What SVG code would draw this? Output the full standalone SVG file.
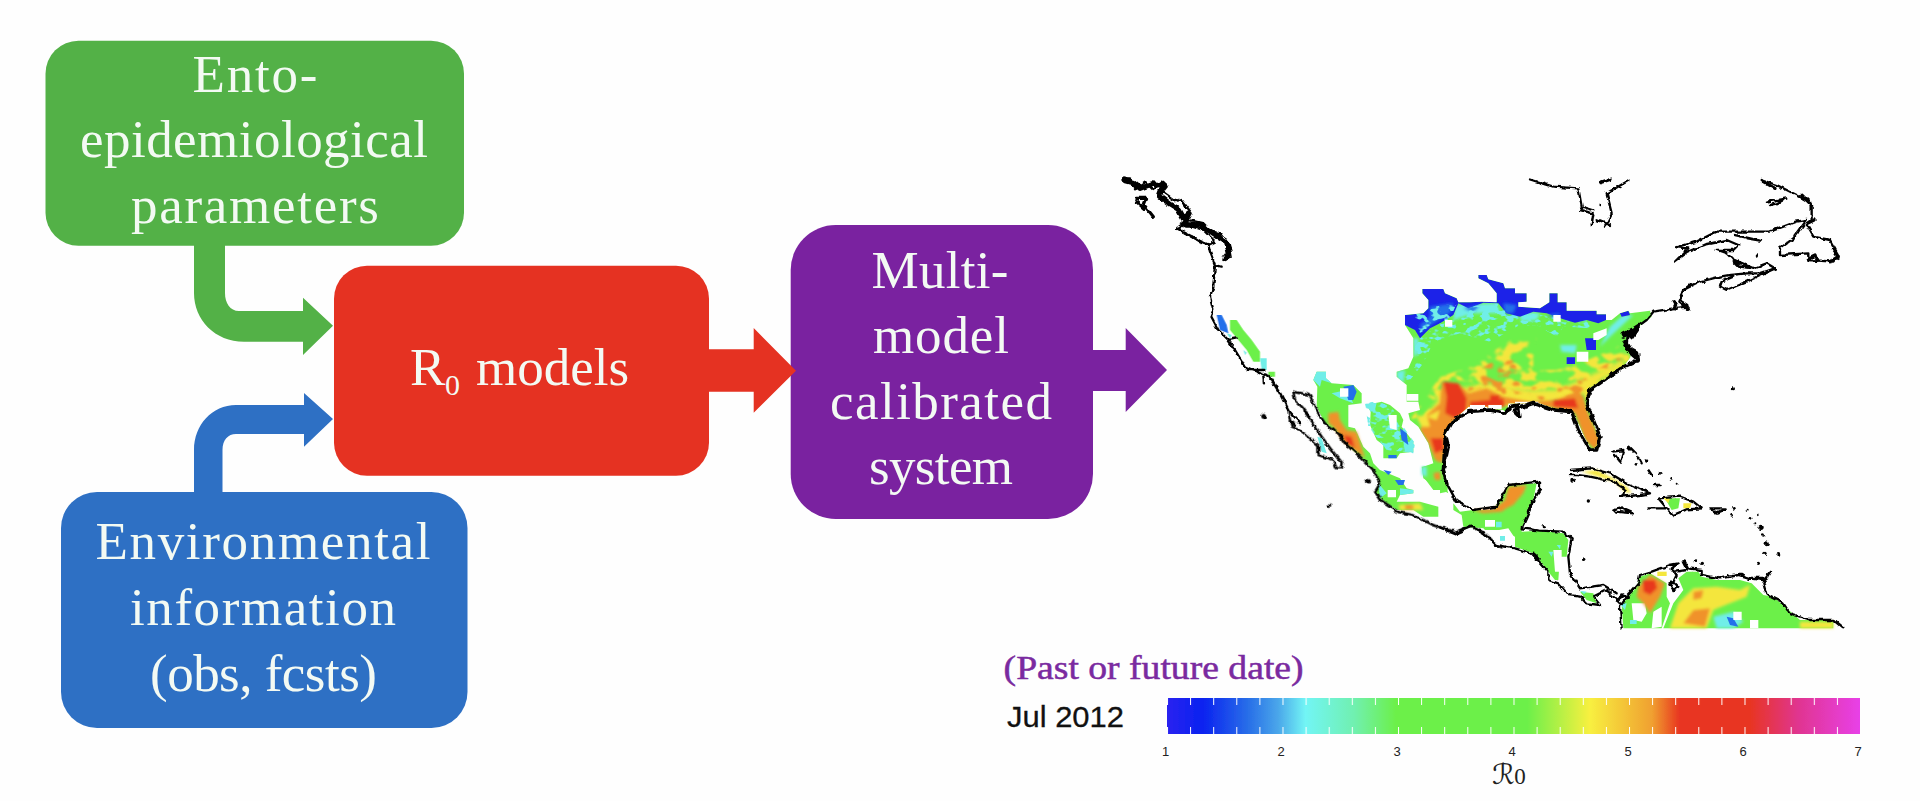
<svg xmlns="http://www.w3.org/2000/svg" width="1920" height="801" viewBox="0 0 1920 801">
<style>
.lbl{font-family:"Liberation Serif",serif;font-size:53px;fill:#f3faf3;text-anchor:middle}
.tick{font-family:"Liberation Sans",sans-serif;font-size:13px;fill:#222;text-anchor:middle}
.coast{fill:none;stroke:#000;stroke-width:7;stroke-linejoin:round;stroke-linecap:round}
.thick{stroke-width:16}
.mid{stroke-width:10}
.dot{fill:#000;stroke:none}
.g{fill:#6cf04a}.b{fill:#1a24e8}.m{fill:#2470ea}.c{fill:#70eee8}.y{fill:#f4e63c}.o{fill:#f0922c}.r{fill:#e8391e}.w{fill:#fff}
</style>
<defs>
<filter id="s1" x="-5%" y="-5%" width="110%" height="110%"><feGaussianBlur stdDeviation="0.7"/></filter>
<filter id="s2" x="-10%" y="-10%" width="120%" height="120%"><feGaussianBlur stdDeviation="7"/></filter>
<filter id="s3" x="-10%" y="-10%" width="120%" height="120%"><feGaussianBlur stdDeviation="4"/></filter>
<filter id="rough" x="1100" y="160" width="780" height="490" filterUnits="userSpaceOnUse" color-interpolation-filters="sRGB"><feTurbulence type="fractalNoise" baseFrequency=".16" numOctaves="2" seed="5" result="n"/><feDisplacementMap in="SourceGraphic" in2="n" scale="4.500" xChannelSelector="R" yChannelSelector="G"/><feGaussianBlur stdDeviation="0.45"/></filter>
<filter id="mY" x="-20%" y="-20%" width="140%" height="140%" color-interpolation-filters="sRGB"><feTurbulence type="fractalNoise" baseFrequency=".024 .036" numOctaves="2" seed="3"/><feColorMatrix values="0 0 0 0 0 0 0 0 0 0 0 0 0 0 0 9 0 0 0 -4.300" result="m"/><feComposite in="SourceGraphic" in2="m" operator="in"/><feGaussianBlur stdDeviation="3"/></filter>
<filter id="mO" x="-20%" y="-20%" width="140%" height="140%" color-interpolation-filters="sRGB"><feTurbulence type="fractalNoise" baseFrequency=".026 .04" numOctaves="2" seed="11"/><feColorMatrix values="0 0 0 0 0 0 0 0 0 0 0 0 0 0 0 9 0 0 0 -4.900" result="m"/><feComposite in="SourceGraphic" in2="m" operator="in"/><feGaussianBlur stdDeviation="3"/></filter>
<filter id="mC" x="-20%" y="-20%" width="140%" height="140%" color-interpolation-filters="sRGB"><feTurbulence type="fractalNoise" baseFrequency=".04 .06" numOctaves="2" seed="7"/><feColorMatrix values="0 0 0 0 0 0 0 0 0 0 0 0 0 0 0 9 0 0 0 -4.600" result="m"/><feComposite in="SourceGraphic" in2="m" operator="in"/><feGaussianBlur stdDeviation="2"/></filter>
<clipPath id="us"><path d="M45 135L100 130 115 115 115 90 97 70 97 57 160 57 165 70 200 85 205 97 240 97 275 95 320 97 320 70 295 40 265 25 265 15 290 15 295 28 340 40 345 55 375 55 375 70 410 70 410 95 385 97 385 110 450 115 478 97 478 70 503 70 503 97 530 97 530 122 620 122 620 133 648 133 648 150 665 150 690 130 715 122 720 130 780 122 785 140 745 170 715 190 710 215 722 260 700 290 650 325 603 352 590 385 600 430 625 500 622 530 605 540 583 500 570 470 550 430 500 420 450 400 390 400 355 400 350 430 340 420 300 420 290 410 235 410 185 455 165 490 170 530 160 570 165 625 160 660 130 660 100 620 100 590 130 580 115 520 85 470 60 450 55 430 90 420 85 395 50 395 50 345 20 320 20 305 55 295 70 260 70 205 45 165Z"/></clipPath>
<linearGradient id="cb" x1="0" x2="1" y1="0" y2="0">
<stop offset="0" stop-color="#2a22f0"/><stop offset=".05" stop-color="#0a20f0"/><stop offset=".12" stop-color="#2a72e8"/><stop offset=".16" stop-color="#4aa6ea"/><stop offset=".2" stop-color="#72f5f5"/><stop offset=".27" stop-color="#70f0b0"/><stop offset=".33" stop-color="#6cf04a"/><stop offset=".52" stop-color="#6cf04a"/><stop offset=".61" stop-color="#f8f040"/><stop offset=".7" stop-color="#f0a030"/><stop offset=".74" stop-color="#e83520"/><stop offset=".84" stop-color="#e83520"/><stop offset=".91" stop-color="#e0358f"/><stop offset="1" stop-color="#e840e8"/>
</linearGradient>
<pattern id="tk" x="1167" y="698" width="23.1" height="36" patternUnits="userSpaceOnUse"><rect width="1" height="7" fill="#fff"/><rect y="29" width="1" height="7" fill="#fff"/></pattern>
</defs>
<rect width="1920" height="801" fill="#fefefe"/>

<g id="node-ento">
<rect x="45.5" y="40.7" width="418.5" height="205" rx="33" fill="#53b147"/>
<text class="lbl" x="255" y="92" textLength="125">Ento-</text>
<text class="lbl" x="254" y="157" textLength="348">epidemiological</text>
<text class="lbl" x="255" y="223" textLength="248">parameters</text>
</g>
<g id="node-env">
<rect x="61" y="492" width="406.5" height="236" rx="36" fill="#2e70c4"/>
<text class="lbl" x="263" y="559" textLength="335">Environmental</text>
<text class="lbl" x="263" y="625" textLength="266">information</text>
<text class="lbl" x="263.500" y="691" textLength="227">(obs, fcsts)</text>
</g>
<g id="node-r0">
<rect x="334" y="265.700" width="375" height="210" rx="33" fill="#e53222"/>
<text class="lbl" style="text-anchor:start" x="410" y="385">R<tspan x="445" dy="10" font-size="30">0</tspan><tspan x="476" dy="-10">models</tspan></text>
</g>
<g id="node-multi">
<rect x="790.700" y="225" width="302.300" height="294" rx="45" fill="#7a22a0"/>
<text class="lbl" x="940" y="288" textLength="137">Multi-</text>
<text class="lbl" x="941" y="353" textLength="136">model</text>
<text class="lbl" x="941" y="419" textLength="222">calibrated</text>
<text class="lbl" x="941" y="484" textLength="144">system</text>
</g>

<g id="connectors">
<path id="arrow-ento-r0" fill="#53b147" d="M194 245V293C194 320 215 341.700 244 341.700H303V355L333 325.700 303 297.700V311H239C230 311 225 303 225 293V245Z"/>
<path id="arrow-env-r0" fill="#2e70c4" d="M194 492V450C194 425 212 405 236 405H304V393L333 419 304 446.700V434H236C228 434 222.500 440 222.500 450V492Z"/>
<path id="arrow-r0-multi" fill="#e53222" d="M709 349.300H753.700V328L796 370.700 753.700 412.700V391.700H709Z"/>
<path id="arrow-multi-map" fill="#7a22a0" d="M1093 350H1125.700V328L1167 370 1125.700 412V391H1093Z"/>
</g>

<g id="map">
<g id="heat" filter="url(#s1)">
<g transform="translate(1390 270) scale(.33333)">
<path class="g" d="M45 135L100 130 115 115 115 90 97 70 97 57 160 57 165 70 200 85 205 97 240 97 275 95 320 97 320 70 295 40 265 25 265 15 290 15 295 28 340 40 345 55 375 55 375 70 410 70 410 95 385 97 385 110 450 115 478 97 478 70 503 70 503 97 530 97 530 122 620 122 620 133 648 133 648 150 665 150 690 130 715 122 720 130 780 122 785 140 745 170 715 190 710 215 722 260 700 290 650 325 603 352 590 385 600 430 625 500 622 530 605 540 583 500 570 470 550 430 500 420 450 400 390 400 355 400 350 430 340 420 300 420 290 410 235 410 185 455 165 490 170 530 160 570 165 625 160 660 130 660 100 620 100 590 130 580 115 520 85 470 60 450 55 430 90 420 85 395 50 395 50 345 20 320 20 305 55 295 70 260 70 205 45 165Z"/>
<g clip-path="url(#us)">
<path class="c" filter="url(#mC)" d="M30 330L75 290 75 230 100 190 200 110 320 100 385 125 520 145 620 150 600 175 520 170 500 200 440 165 380 170 300 215 210 190 130 215 100 280 60 330Z"/>
<g filter="url(#s3)">
<path class="c" d="M70 205L85 205 85 250 72 262Z M20 305L45 300 40 340 22 325Z M195 105L320 100 330 130 250 130 190 150Z M385 125L450 130 440 150 395 155Z M660 170L700 135 730 135 660 200 630 230Z M510 225L560 225 555 250 515 245Z"/>
</g>
<path class="b" d="M45 135L100 130 115 115 115 90 97 70 97 57 160 57 165 70 200 85 205 97 240 97 275 95 320 97 320 70 295 40 265 25 265 15 290 15 295 28 340 40 345 55 375 55 375 70 410 70 410 95 385 97 385 110 450 115 478 97 478 70 503 70 503 97 530 97 530 122 620 122 620 133 648 133 648 150 625 160 590 150 555 158 520 148 470 130 430 125 390 140 350 130 325 100 280 98 235 115 205 100 190 135 150 160 120 175 90 205 75 180 45 165Z"/>
<path class="b" d="M585 205L618 205 618 240 590 240Z M530 262L555 262 555 282 530 282Z M690 130L715 122 720 135 695 140Z M780 110L795 110 795 122 780 122Z"/>
<g filter="url(#s3)">
<path class="m" d="M120 110L190 100 180 130 130 160 95 185 90 165 120 140Z M340 100L380 105 370 130 345 130Z M220 115L270 105 250 125Z M470 135L510 130 500 145Z"/>
</g>
<path class="c" filter="url(#mC)" d="M70 120L200 100 170 170 90 190Z M230 110L340 100 350 150 240 140Z"/>
<g filter="url(#s2)">
<path class="y" d="M100 450L165 360 240 350 300 340 420 360 500 360 590 320 660 290 700 265 705 290 640 325 590 370 500 395 300 410 160 490Z"/>
</g>
<path class="y" filter="url(#mY)" d="M60 450L150 320 240 290 300 250 370 205 440 205 430 260 430 300 500 300 570 280 640 250 715 215 720 280 640 340 590 390 300 420 160 490Z"/>
<path class="o" filter="url(#mO)" d="M200 345L300 280 370 270 400 350 500 350 600 310 700 255 700 280 620 340 560 390 300 400Z"/>
<g filter="url(#s3)">
<path class="o" d="M155 335L205 340 235 370 290 355 340 380 420 395 500 390 560 365 580 378 595 430 630 510 615 540 585 510 555 430 490 415 430 405 350 405 240 415 195 450 170 495 170 535 155 580 135 570 115 520 90 480 105 440 150 400Z"/>
<path class="r" d="M160 335L205 340 230 385 228 425 195 445 165 430 170 380Z"/>
<path class="r" d="M122 505L160 505 160 540 135 550Z M240 395L340 385 345 410 240 410Z M490 390L555 385 565 415 490 410Z M300 375L330 375 325 395 300 395Z"/>
<path class="y" d="M80 440L110 435 120 470 95 470Z M110 440L150 420 140 450Z"/>
</g>
</g>
<path class="w" d="M165 150H187V170H165Z M490 135H512V155H490Z M610 190L650 175 650 195 625 210 610 210Z M560 245H595V275H560Z M50 372H85V392H50Z M240 405H285V416H240Z M295 405H335V418H295Z M375 395H445V400H375Z"/>
</g>
<g transform="translate(1200 370) scale(.33333)">
<path class="g" d="M350 5L378 5 378 25 395 40 460 45 485 70 485 100 445 105 445 170 465 175 490 230 510 250 520 280 540 300 600 325 620 355 640 360 640 370 600 375 590 395 660 395 715 410 715 440 670 440 640 420 590 420 540 385 525 365 540 340 520 300 480 260 440 225 420 195 375 160 350 110 352 50 340 30Z"/>
<path class="c" d="M350 5L378 5 378 25 395 40 365 30 360 50 340 30Z M395 70L440 60 460 100 420 85Z M535 340L560 370 540 385Z M640 360L640 370 600 375 600 355Z"/>
<path class="m" d="M430 50L460 45 470 65 460 90 445 90Z M585 330L615 330 610 345 595 345Z M550 300L575 305 565 315Z"/>
<path class="w" d="M420 55H445V80H420Z M563 360H588V382H563Z"/>
<g filter="url(#s3)">
<path class="o" d="M385 130L415 125 420 150 440 180 470 185 495 265 470 245 430 215 400 170 385 160Z"/>
<path class="y" d="M595 405L660 400 670 420 600 420Z"/>
<path class="o" d="M615 405L640 405 640 418 615 418Z"/>
<path class="r" d="M430 195L455 200 465 235 440 220Z"/>
</g>
<path class="g" d="M500 105L545 95 570 105 600 130 610 150 605 170 640 215 640 245 600 250 590 265 550 265 550 225 530 210 510 165 512 125Z"/>
<path class="c" filter="url(#mC)" d="M495 100L550 90 580 120 610 170 645 220 640 250 560 240 505 170Z"/>
<path class="c" d="M500 105L530 98 525 120 512 125Z M610 215L640 215 640 245 615 245Z"/>
<path class="m" d="M600 175L620 190 625 225 605 210Z M565 255H590V265H565Z"/>
<path class="w" d="M565 135H590L590 180 570 175Z"/>
<path class="g" d="M665 290L700 285 720 280 730 335 745 370 700 345 670 325Z"/>
<g filter="url(#s3)"><path class="o" d="M700 310L720 305 722 330 705 330Z"/><path class="c" d="M665 290L680 290 680 320 665 315Z"/></g>
<path class="c" d="M352 200L365 205 380 250 365 245Z"/>
</g>
<g transform="translate(1120 170) scale(.33333)">
<path class="g" d="M330 450L350 450 370 480 395 510 420 545 420 575 400 575 380 540 355 510 330 480Z M445 605H465V620H445Z"/>
<path class="m" d="M290 435L305 435 320 465 325 490 300 480Z"/>
<path class="c" d="M420 565L440 565 440 600 425 600Z M320 490L335 495 330 505Z M370 540L380 548 375 555Z"/>
</g>
<g transform="translate(1440 440) scale(.33333)">
<path class="g" d="M0 120L25 130 22 155 0 160Z M40 190L60 215 100 210 160 210 205 135 290 130 280 180 265 220 245 265 245 275 300 272 370 280 385 300 380 350 360 350 355 420 345 420 325 395 290 350 280 340 225 320 225 290 180 270 135 270 130 265 70 260 65 225 40 210Z"/>
<path class="g" d="M420 455L460 460 470 490 440 480Z"/>
<g filter="url(#s3)"><path class="o" d="M205 140L260 135 250 160 220 195 200 205 185 215 130 220 80 205 100 210 160 208 195 180Z"/></g>
<path class="w" d="M135 240H165V260H135Z M150 275L205 265 225 295 220 320 175 315Z M340 330H365V350L360 395 345 395Z"/>
<path class="c" d="M168 245H185V262H168Z M180 288H195V302H180Z M325 335L340 335 335 350Z M350 315L362 315 360 328Z M420 452L440 455 432 462Z"/>
</g>
<g transform="translate(1570 440) scale(.33333)">
<path class="g" d="M155 495L175 470 200 440 210 410 240 400 290 430 290 470 300 490 275 565 160 565Z"/>
<path class="w" d="M185 490L225 490 230 520 215 545 190 540Z M250 515L275 500 275 560 245 565Z"/>
<g filter="url(#s3)">
<path class="o" d="M205 440L240 405 285 430 270 470 240 520 220 490 200 470Z"/>
<path class="r" d="M218 420L255 420 262 445 240 465 220 455Z"/>
</g>
<path class="c" d="M150 492L170 490 165 510Z M180 540H200V552H180Z"/>
<path class="g" d="M280 565L310 490 340 450 325 415 350 395 385 395 395 410 440 420 510 420 545 430 580 465 610 470 650 505 690 540 790 540 790 565Z"/>
<g filter="url(#s3)">
<path class="y" d="M300 565L325 490 370 445 440 440 510 450 540 435 530 470 480 490 430 510 410 565Z M690 545H790V565H690Z"/>
<path class="o" d="M340 550L370 510 420 505 405 560Z M370 455L400 450 395 475 370 480Z"/>
</g>
<g filter="url(#s3)"><path class="c" d="M430 530L490 515 520 545 490 565 440 565Z"/></g>
<path class="m" d="M470 530L490 535 505 560 480 555Z"/>
<path class="w" d="M490 515H515V540H490Z M540 540H565V565H540Z"/>
<path class="y" d="M262 395L290 395 290 408 262 408Z"/>
<g filter="url(#s3)"><path class="y" d="M35 95L80 90 110 105 130 115 170 140 185 160 165 155 135 125 100 115Z"/></g>
<path class="g" d="M285 175L330 175 325 205 305 210Z"/>
<path class="y" d="M280 175L300 175 295 190Z M340 190L365 190 360 205 340 205Z"/>
</g>
</g>

<g id="coastlines" filter="url(#rough)">
<g transform="translate(1120 170) scale(.33333)">
<path class="coast thick" d="M10 30L40 38 60 55 95 42 130 45 118 78 150 102 175 118 190 145 205 130 195 165 240 165 280 190 320 215 328 250 316 265"/>
<path class="coast" d="M5 30L30 28 50 45 45 55 75 35 100 60 125 35 140 50 128 65 170 95 185 90 215 130 205 150 250 160 275 185 300 190 330 235 335 262 310 270 M170 175L190 160 250 180 285 215 265 225 240 215 205 195 170 175"/>
<path class="coast mid" d="M170 175L210 195 240 215 265 225"/>
<path class="coast mid" d="M48 85H80L72 105 100 140M50 95L72 115"/>
<path class="coast" d="M265 225L270 245 285 285 305 290M285 285L280 350 270 380 280 420 273 438 295 480 325 510 345 540 375 590 410 605 450 620 480 670 505 720 540 760"/>
<path class="coast" d="M325 510L350 505M380 600L430 600M430 620L432 640"/>
</g>
<g transform="translate(1200 370) scale(.33333)">
<path class="coast" d="M215 30L240 70 265 120 270 150 275 170 300 180 330 205 355 225 355 255 400 270 410 295 425 295 428 280 395 240 365 200 330 150 310 115 285 90 280 65 330 75 345 115 375 160 420 195 440 225 480 260 520 300 540 340 525 365 545 395 590 425 640 435 700 465 770 488 810 470 850 485 890 525 905 532"/>
<path class="coast mid" d="M315 125L330 140M420 195L440 225M270 155L285 165"/>
<ellipse class="dot" cx="191" cy="138" rx="7" ry="9"/><ellipse class="dot" cx="504" cy="335" rx="9" ry="8"/><ellipse class="dot" cx="387" cy="407" rx="7" ry="4"/>
</g>
<g transform="translate(1390 270) scale(.33333)">
<path class="coast mid" d="M170 640L160 600 175 530 165 490 185 455 235 425 300 420 345 430 360 410 385 405 390 440 370 420 430 400 490 420 545 425 565 480 600 540 620 540 630 500 590 400 600 360 650 325 700 290 745 270 710 240 715 190"/>
<path class="coast thick" d="M705 215L720 240 740 250 742 270M715 190L745 170 725 200M700 195L730 180"/>
<path class="coast" d="M715 190L770 150 790 125 850 115 890 110 895 105 870 90 880 60 900 45"/>
<path class="coast mid" d="M850 95L860 115M880 100L895 118"/>
</g>
<g transform="translate(1500 170) scale(.33333)">
<path class="coast" d="M560 415L535 395 550 360 600 335 660 320 690 315 740 310 780 310 825 295 800 280 760 295 720 290 680 250 650 240 700 240 715 225 680 210 610 225 565 245 525 275 565 235 530 232 590 215 650 185 810 185 890 155 920 150 880 205 840 235 840 255 925 250 925 270 1000 275 1015 255 990 210 940 200 920 165 935 150 935 100 890 75 830 45 785 30"/>
<path class="coast" d="M660 350L680 360 740 335 825 295M700 320L665 335 660 350M800 95L860 85 830 100 810 105M705 195L780 212 740 205"/>
<path class="coast mid" d="M905 75L935 105M790 35L825 55M700 270L760 295M925 160L945 150M925 265L945 255 950 272M1000 240L1015 260 990 275"/>
<path class="coast" d="M90 28L160 50 235 55 245 110 240 120 280 130 275 165M315 170L335 130 320 70 385 32M245 110L280 120M290 150L330 165"/>
<path class="coast mid" d="M300 38L330 28"/>
<circle class="dot" cx="302" cy="105" r="4"/><circle class="dot" cx="772" cy="258" r="5"/><circle class="dot" cx="700" cy="653" r="5"/>
</g>
<g transform="translate(1440 440) scale(.33333)">
<path class="coast" d="M20 130L50 185 100 210 170 200 205 135 300 125 300 150 280 180 265 220 245 265 300 272 370 275 395 295 385 350 390 400 420 445 490 435 530 460 M0 262L45 280 95 260 130 280 170 315 225 325 275 340 325 395 325 420 355 430 385 465 420 470 440 490 480 495 460 470 500 450 540 490"/>
<path class="coast mid" d="M15 0L10 90 20 130M275 185L265 215M278 340L295 355M545 465L565 470"/>
<circle class="dot" cx="310" cy="260" r="5"/><circle class="dot" cx="433" cy="359" r="4"/>
</g>
<g transform="translate(1570 440) scale(.33333)">
<path class="coast" d="M155 565L150 500 175 465 205 430 210 405 245 395 300 375 325 370 305 385 320 405 310 425 325 440 310 450 298 430 310 425M320 395L350 390 345 365 355 385 395 390 395 405 450 415 505 405 540 415 580 420 600 395 580 430 590 465 640 490 660 520 720 540 790 540 820 565"/>
<path class="coast" d="M0 90L65 85 120 100 170 130 240 160 210 165 150 170 170 150 130 125 60 110 20 105 0 105M130 208L150 203 190 220 135 215ZM235 205L290 205 265 175 330 170 370 185 395 205 350 208 310 225 290 205M420 205L470 205 440 218Z"/>
<path class="coast mid" d="M505 403H520M535 415H590M340 365L350 385M160 465L140 480"/>
<path class="coast" d="M130 35L160 30 150 65 135 45M255 135H272M175 20L195 40M205 50L215 70M235 90L245 105"/>
<g class="dot"><circle cx="10" cy="122" r="6"/><circle cx="55" cy="183" r="5"/><circle cx="45" cy="358" r="4"/><circle cx="490" cy="205" r="4"/><circle cx="530" cy="212" r="3"/><circle cx="565" cy="225" r="4"/><circle cx="540" cy="235" r="4"/><circle cx="570" cy="262" r="8"/><circle cx="556" cy="250" r="3"/><circle cx="580" cy="285" r="5"/><circle cx="590" cy="310" r="6"/><circle cx="585" cy="340" r="5"/><circle cx="625" cy="345" r="6"/><circle cx="568" cy="370" r="5"/><circle cx="475" cy="403" r="4"/><circle cx="397" cy="370" r="5"/><circle cx="375" cy="365" r="4"/><circle cx="230" cy="60" r="5"/><circle cx="195" cy="70" r="4"/><circle cx="270" cy="100" r="4"/><circle cx="305" cy="115" r="4"/><circle cx="320" cy="128" r="3"/><circle cx="485" cy="226" r="4"/><circle cx="120" cy="465" r="3"/></g>
</g>
</g>
</g>

<g id="legend">
<text x="1003.600" y="679" font-family="'Liberation Serif',serif" font-size="34" fill="#7a2aa0" stroke="#7a2aa0" stroke-width=".5" textLength="300" lengthAdjust="spacingAndGlyphs">(Past or future date)</text>
<text x="1007" y="727" font-family="'Liberation Sans',sans-serif" font-size="30" fill="#111" stroke="#111" stroke-width=".3" textLength="117" lengthAdjust="spacingAndGlyphs">Jul 2012</text>
<g filter="url(#s1)">
<rect x="1167" y="698" width="693" height="36" fill="url(#cb)"/>
<rect x="1167" y="698" width="693" height="36" fill="url(#tk)"/>
</g>
<text class="tick" x="1165.500" y="756">1</text><text class="tick" x="1281" y="756">2</text><text class="tick" x="1397" y="756">3</text><text class="tick" x="1512" y="756">4</text><text class="tick" x="1628" y="756">5</text><text class="tick" x="1743" y="756">6</text><text class="tick" x="1858" y="756">7</text>
<text x="1492" y="784" font-family="'DejaVu Serif','DejaVu Sans',serif" font-style="italic" font-size="28" fill="#222">ℛ<tspan font-family="'Liberation Serif',serif" font-size="23" font-style="normal">0</tspan></text>
</g>
</svg>
